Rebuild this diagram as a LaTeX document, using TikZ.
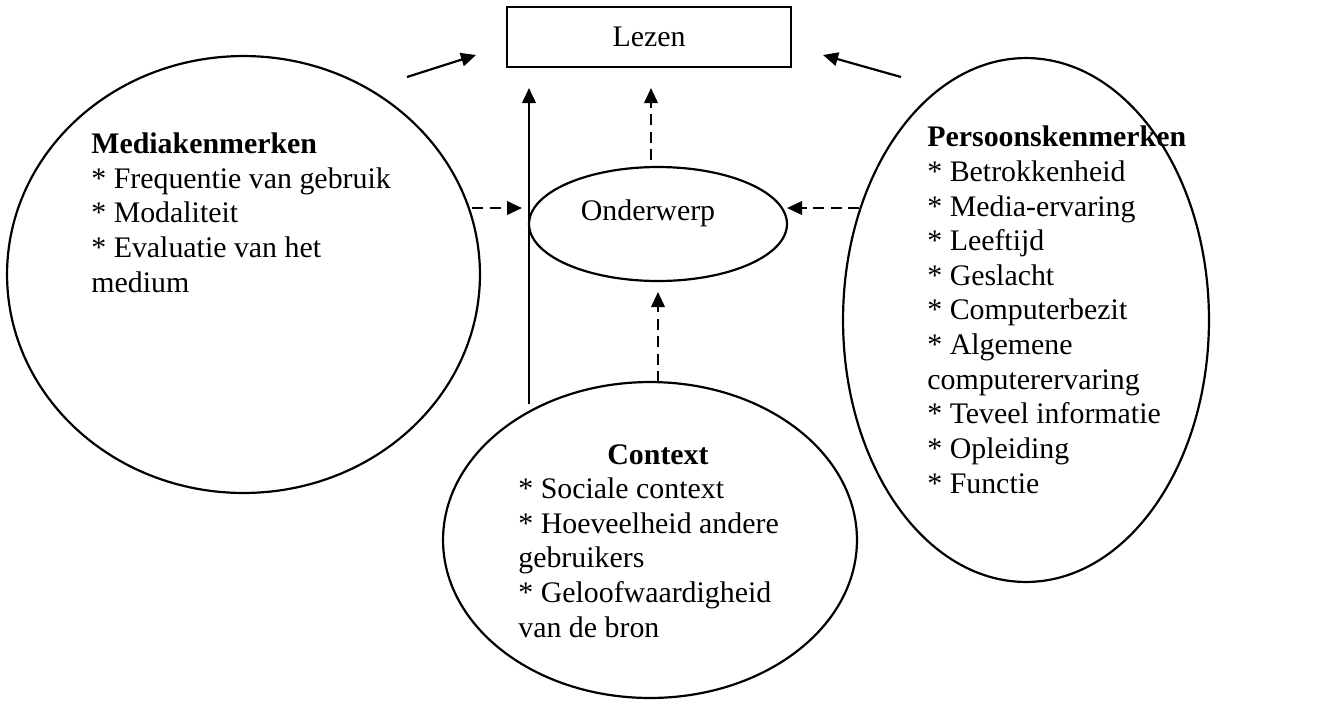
\documentclass[tikz,border=0pt]{standalone}
\usepackage{fontspec}
\setmainfont{Liberation Serif}
\usetikzlibrary{shapes.geometric,arrows.meta}

\tikzset{
  outline/.style={draw=black, line width=1.25pt, inner sep=0pt},
  blob/.style={outline, ellipse},
  txt/.style={inner sep=0pt, align=left, font=\fontsize{17pt}{19.7pt}\selectfont},
  link/.style={line width=1.25pt, -{Triangle[length=0.3cm,width=0.27cm]}},
  dashlink/.style={link, dash pattern=on 0.22cm off 0.13cm}
}

\begin{document}
\begin{tikzpicture}[x=0.02cm, y=-0.02cm]
  \useasboundingbox (0,0) rectangle (1324,704);

  % outcome box
  \node[outline, rectangle, minimum width=5.68cm, minimum height=1.2cm,
        font=\fontsize{17pt}{19.7pt}\selectfont] (lezen) at (649,37) {Lezen};

  % the four clusters of factors
  \node[blob, minimum width=9.46cm, minimum height=8.74cm] (media) at (243.5,274.5) {};
  \node[blob, minimum width=7.32cm, minimum height=10.48cm] (persoon) at (1026,320) {};
  \node[blob, minimum width=8.28cm, minimum height=6.32cm] (context) at (650,540) {};
  \node[blob, minimum width=5.16cm, minimum height=2.28cm] (onder) at (658,224) {};

  % texts (anchored at the baseline of their last line)
  \node[txt, anchor=base] (ondertxt) at (648,220) {Onderwerp};
  \node[txt, anchor=base west] (mediatxt) at (91,292)
    {\textbf{Mediakenmerken}\\
     * Frequentie van gebruik\\
     * Modaliteit\\
     * Evaluatie van het\\
     medium};
  \node[txt, anchor=base west] (persoontxt) at (927,493)
    {\textbf{Persoonskenmerken}\\
     * Betrokkenheid\\
     * Media-ervaring\\
     * Leeftijd\\
     * Geslacht\\
     * Computerbezit\\
     * Algemene\\
     computerervaring\\
     * Teveel informatie\\
     * Opleiding\\
     * Functie};
  \node[txt, anchor=base] (contexthead) at (658,464) {\textbf{Context}};
  \node[txt, anchor=base west] (contexttxt) at (518,637)
    {* Sociale context\\
     * Hoeveelheid andere\\
     gebruikers\\
     * Geloofwaardigheid\\
     van de bron};

  % connector end points
  \coordinate (mA) at (407,77);   \coordinate (lA) at (476,55);
  \coordinate (pA) at (901,77);   \coordinate (lB) at (823,55);
  \coordinate (cA) at (529,404);  \coordinate (lC) at (529,88);
  \coordinate (oA) at (651,160);  \coordinate (lD) at (651,88);
  \coordinate (cB) at (658,382);  \coordinate (oB) at (658,292);
  \coordinate (mB) at (472,208);  \coordinate (oC) at (522,208);
  \coordinate (pB) at (859,208);  \coordinate (oD) at (787,208);

  % direct effects on reading
  \draw[link] (mA) -- (lA);
  \draw[link] (pA) -- (lB);
  \draw[link] (cA) -- (lC);
  % effects through the topic
  \draw[dashlink] (oA) -- (lD);
  \draw[dashlink] (cB) -- (oB);
  \draw[dashlink] (mB) -- (oC);
  \draw[dashlink] (pB) -- (oD);
\end{tikzpicture}
\end{document}
